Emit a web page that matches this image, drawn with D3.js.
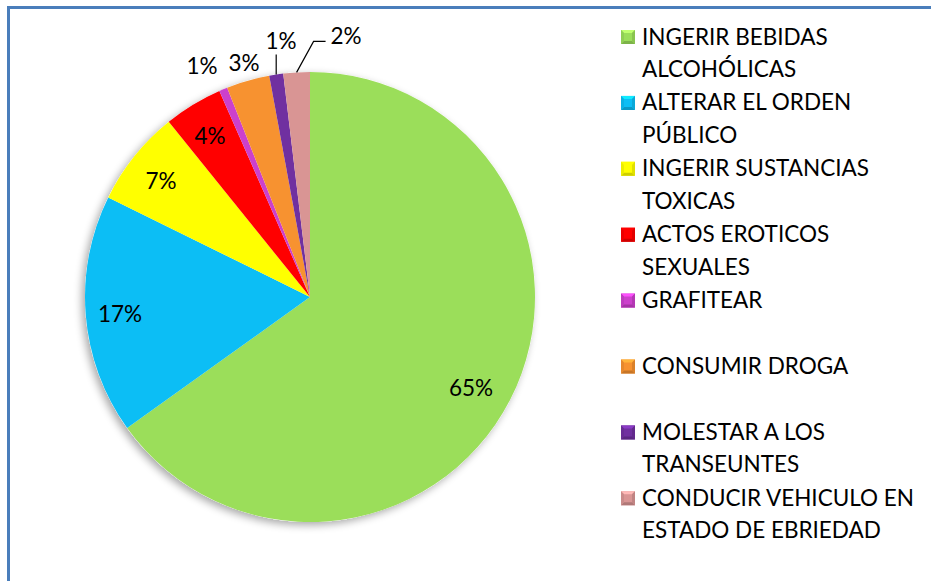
<!DOCTYPE html>
<html><head><meta charset="utf-8">
<script src="https://cdn.jsdelivr.net/npm/d3@7"></script>
<style>
html,body{margin:0;padding:0;background:#fff;overflow:hidden;}
svg{display:block;}
text{font-family:Lato,"Open Sans",sans-serif;}
</style></head>
<body>
<svg id="chart" width="931" height="581"></svg>
<script>
const categories = ["INGERIR BEBIDAS ALCOHÓLICAS","ALTERAR EL ORDEN PÚBLICO","INGERIR SUSTANCIAS TOXICAS","ACTOS EROTICOS SEXUALES","GRAFITEAR","CONSUMIR DROGA","MOLESTAR A LOS TRANSEUNTES","CONDUCIR VEHICULO EN ESTADO DE EBRIEDAD"];
const legendLines = [["INGERIR BEBIDAS","ALCOHÓLICAS"],["ALTERAR EL ORDEN","PÚBLICO"],["INGERIR SUSTANCIAS","TOXICAS"],["ACTOS EROTICOS","SEXUALES"],["GRAFITEAR"],["CONSUMIR DROGA"],["MOLESTAR A LOS","TRANSEUNTES"],["CONDUCIR VEHICULO EN","ESTADO DE EBRIEDAD"]];
const values = [65.1, 17.2, 6.9, 4.2, 0.6, 3.1, 1.0, 1.9];
const colors = ["#9BDE5A","#0CBEF5","#FFFF00","#FF0000","#CC40CC","#F79230","#7030A0","#D99594"];

const svg = d3.select("#chart");
const defs = svg.append("defs");
// frame (left & top only visible)
svg.append("path").attr("d","M8.5,581 L8.5,7.5 L931,7.5")
  .attr("fill","none").attr("stroke","#4A7EBB").attr("stroke-width",3);

const cx = 310, cy = 297, R = 225;
const total = d3.sum(values);
const pie = d3.pie().sort(null).value(d=>d)(values);
const arc = d3.arc().innerRadius(0).outerRadius(R);

const f = defs.append("filter").attr("id","sh").attr("x","-20%").attr("y","-20%").attr("width","140%").attr("height","140%");
f.append("feGaussianBlur").attr("in","SourceAlpha").attr("stdDeviation",4);
f.append("feOffset").attr("dx",-3).attr("dy",3).attr("result","b");
f.append("feComponentTransfer").append("feFuncA").attr("type","linear").attr("slope",0.35);
const fm = f.append("feMerge"); fm.append("feMergeNode"); fm.append("feMergeNode").attr("in","SourceGraphic");

const g = svg.append("g").attr("transform",`translate(${cx},${cy})`);
g.append("circle").attr("r",R).attr("fill","#fff").attr("filter","url(#sh)");

pie.forEach((d,i)=>{
  const id = "clip"+i;
  defs.append("clipPath").attr("id",id).append("path").attr("d",arc(d)).attr("transform",`translate(${cx},${cy})`);
  g.append("path").attr("d",arc(d)).attr("fill",colors[i]);
  svg.append("path").attr("d",arc(d)).attr("transform",`translate(${cx},${cy})`)
    .attr("clip-path",`url(#${id})`).attr("fill","none")
    .attr("stroke","#fff").attr("stroke-opacity",0.28).attr("stroke-width",10);
  svg.append("path").attr("d",arc(d)).attr("transform",`translate(${cx},${cy})`)
    .attr("clip-path",`url(#${id})`).attr("fill","none")
    .attr("stroke","#000").attr("stroke-opacity",0.18).attr("stroke-width",2.5);
});

const FS = 22.5;
const pct = v => Math.round(v/total*100) + "%";
const labelPos = [[471,387],[120,313],[161,180],[210,135],[202,65],[244,62],[281,40],[346,35]];
labelPos.forEach((p,i)=>{
  svg.append("text").attr("x",p[0]).attr("y",p[1]).attr("text-anchor","middle")
    .attr("dominant-baseline","central").attr("font-size",FS).attr("fill","#000").text(pct(values[i]));
});
const mid = d => (d.startAngle+d.endAngle)/2;
const edge = d => [cx + R*Math.sin(mid(d)), cy - R*Math.cos(mid(d))];
const e6 = edge(pie[6]);
svg.append("path").attr("d",`M${e6[0]},${e6[1]} L${e6[0]},${e6[1]-20}`).attr("stroke","#000").attr("stroke-width",1.2).attr("fill","none");
const e7 = edge(pie[7]);
svg.append("path").attr("d",`M${e7[0]},${e7[1]} L${e7[0]+17},${e7[1]-31} L${e7[0]+29},${e7[1]-31}`).attr("stroke","#000").attr("stroke-width",1.2).attr("fill","none");

const lg = svg.append("g");
legendLines.forEach((lines,i)=>{
  const y = 36 + i*65.9;
  const x0 = 621, s = 14;
  const c = d3.color(colors[i]);
  const yy = y - s/2 + 1;
  const L = c.brighter(0.6), D = c.darker(0.6);
  lg.append("rect").attr("x",x0).attr("y",yy).attr("width",s).attr("height",s).attr("fill",colors[i]);
  const m = 3;
  lg.append("path").attr("d",`M${x0},${yy}L${x0+s},${yy}L${x0+s-m},${yy+m}L${x0+m},${yy+m}Z`).attr("fill",L);
  lg.append("path").attr("d",`M${x0},${yy+s}L${x0+s},${yy+s}L${x0+s-m},${yy+s-m}L${x0+m},${yy+s-m}Z`).attr("fill",D);
  lg.append("path").attr("d",`M${x0},${yy}L${x0+m},${yy+m}L${x0+m},${yy+s-m}L${x0},${yy+s}Z`).attr("fill",c.darker(0.2));
  lg.append("path").attr("d",`M${x0+s},${yy}L${x0+s-m},${yy+m}L${x0+s-m},${yy+s-m}L${x0+s},${yy+s}Z`).attr("fill",c.darker(0.35));
  lines.forEach((t,j)=>{
    lg.append("text").attr("x",642).attr("y",y + j*32.5).attr("dominant-baseline","central")
      .attr("font-size",FS).attr("fill","#000").text(t);
  });
});
</script>
</body></html>
